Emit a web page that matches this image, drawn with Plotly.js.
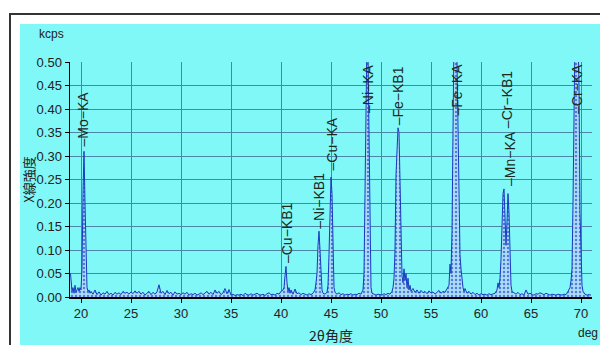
<!DOCTYPE html>
<html>
<head>
<meta charset="utf-8">
<script src="https://cdn.plot.ly/plotly-3.0.1.min.js"></script>
<style>
  html, body { margin:0; padding:0; background:#ffffff; width:600px; height:345px; overflow:hidden; }
  #frame { position:absolute; left:9px; top:13px; width:620px; height:360px; border-left:2px solid #333; border-top:2px solid #333; }
  #bg { position:absolute; left:20px; top:24px; width:600px; height:340px; background:#80f8f8; }
  #chart { position:absolute; left:0px; top:0px; width:600px; height:345px; }
</style>
</head>
<body>
<div id="frame"></div>
<div id="bg"></div>
<div id="chart"></div>
<script>
// 2θ angle (deg)
const theta = [
 18.95,19.0,19.1,19.2,19.3,19.4,19.5,19.6,19.7,19.8,19.9,20.0,20.1,20.2,20.25,20.3,20.4,20.5,20.6,20.7,20.8,20.9,
 21.0,21.2,21.4,21.6,21.8,22.0,22.2,22.4,22.6,22.8,23.0,23.2,23.4,23.6,23.8,24.0,24.2,24.4,24.6,24.8,
 25.0,25.2,25.4,25.6,25.8,26.0,26.2,26.4,26.6,26.8,27.0,27.2,27.4,27.6,27.8,28.0,28.2,28.4,28.6,28.8,
 29.0,29.2,29.4,29.6,29.8,30.0,30.2,30.4,30.6,30.8,31.0,31.2,31.4,31.6,31.8,32.0,32.2,32.4,32.6,32.8,
 33.0,33.2,33.4,33.6,33.8,34.0,34.2,34.4,34.6,34.8,35.0,35.2,35.4,35.6,35.8,36.0,36.2,36.4,36.6,36.8,
 37.0,37.2,37.4,37.6,37.8,38.0,38.2,38.4,38.6,38.8,39.0,39.2,39.4,39.6,39.8,40.0,40.2,40.3,40.4,40.5,
 40.6,40.7,40.8,40.9,41.0,41.2,41.4,41.6,41.8,42.0,42.2,42.4,42.6,42.8,43.0,43.2,43.4,43.5,43.6,43.7,
 43.8,43.9,44.0,44.1,44.2,44.4,44.6,44.7,44.8,44.9,45.0,45.1,45.2,45.3,45.4,45.6,45.8,46.0,46.2,46.4,
 46.6,46.8,47.0,47.2,47.4,47.6,47.8,48.0,48.2,48.3,48.4,48.5,48.6,48.7,48.8,48.9,49.0,49.1,49.3,49.5,
 49.7,49.9,50.1,50.3,50.5,50.7,50.9,51.1,51.2,51.3,51.4,51.5,51.6,51.7,51.8,51.9,52.0,52.1,52.2,52.3,
 52.4,52.5,52.6,52.7,52.8,52.9,53.0,53.2,53.4,53.6,53.8,54.0,54.2,54.4,54.6,54.8,55.0,55.2,55.4,55.6,
 55.8,56.0,56.2,56.4,56.6,56.8,56.9,57.0,57.1,57.2,57.3,57.4,57.5,57.6,57.7,57.8,57.9,58.0,58.1,58.2,
 58.3,58.4,58.6,58.8,59.0,59.2,59.4,59.6,59.8,60.0,60.2,60.4,60.6,60.8,61.0,61.2,61.4,61.6,61.7,61.8,
 61.9,62.0,62.1,62.2,62.3,62.4,62.5,62.6,62.7,62.8,62.9,63.0,63.1,63.3,63.5,63.7,63.9,64.1,64.3,64.5,
 64.7,64.9,65.1,65.3,65.5,65.7,65.9,66.1,66.3,66.5,66.7,66.9,67.1,67.3,67.5,67.7,67.9,68.1,68.3,68.5,
 68.7,68.9,69.0,69.1,69.2,69.3,69.4,69.5,69.6,69.7,69.8,69.9,70.0,70.1,70.2,70.4,70.6,70.8,71.0
];
// X-ray intensity (kcps)
const intensity = [
 0.050,0.030,0.012,0.020,0.008,0.025,0.010,0.015,0.020,0.012,0.020,0.015,0.060,0.220,0.300,0.310,0.200,0.080,0.020,0.012,0.015,0.008,
 0.012,0.006,0.015,0.005,0.011,0.004,0.009,0.006,0.012,0.005,0.008,0.004,0.010,0.006,0.009,0.005,0.012,0.008,0.010,0.006,
 0.011,0.007,0.013,0.008,0.012,0.006,0.010,0.004,0.009,0.012,0.005,0.010,0.006,0.011,0.026,0.008,0.012,0.005,0.014,0.007,
 0.010,0.004,0.011,0.006,0.008,0.005,0.009,0.006,0.010,0.004,0.007,0.005,0.008,0.004,0.006,0.009,0.005,0.008,0.012,0.006,
 0.010,0.005,0.015,0.008,0.012,0.005,0.009,0.018,0.007,0.016,0.004,0.006,0.003,0.005,0.004,0.006,0.003,0.008,0.005,0.004,
 0.007,0.004,0.006,0.008,0.005,0.004,0.006,0.003,0.007,0.009,0.005,0.006,0.004,0.008,0.006,0.012,0.015,0.020,0.045,0.065,
 0.030,0.012,0.020,0.008,0.015,0.006,0.017,0.007,0.009,0.005,0.008,0.006,0.004,0.007,0.005,0.008,0.015,0.030,0.050,0.110,
 0.140,0.100,0.040,0.015,0.008,0.006,0.010,0.025,0.090,0.200,0.255,0.220,0.080,0.020,0.010,0.006,0.009,0.005,0.007,0.004,
 0.006,0.005,0.007,0.004,0.006,0.005,0.008,0.006,0.015,0.050,0.220,0.460,0.560,0.520,0.300,0.090,0.020,0.008,0.006,0.004,
 0.006,0.005,0.004,0.007,0.005,0.008,0.006,0.012,0.020,0.040,0.100,0.260,0.340,0.360,0.350,0.220,0.080,0.045,0.030,0.060,
 0.035,0.050,0.020,0.040,0.015,0.025,0.012,0.018,0.010,0.015,0.008,0.014,0.009,0.012,0.007,0.013,0.008,0.011,0.006,0.010,
 0.014,0.008,0.012,0.010,0.018,0.025,0.070,0.050,0.140,0.400,0.560,0.580,0.570,0.500,0.350,0.150,0.090,0.060,0.035,0.020,
 0.012,0.018,0.008,0.012,0.006,0.010,0.005,0.008,0.004,0.007,0.005,0.006,0.004,0.007,0.005,0.006,0.008,0.015,0.030,0.020,
 0.040,0.080,0.150,0.220,0.230,0.170,0.110,0.160,0.220,0.180,0.070,0.025,0.012,0.008,0.006,0.010,0.005,0.007,0.004,0.015,
 0.006,0.008,0.005,0.004,0.007,0.006,0.009,0.007,0.005,0.008,0.006,0.004,0.006,0.005,0.004,0.006,0.005,0.004,0.006,0.005,
 0.012,0.020,0.035,0.060,0.200,0.450,0.560,0.580,0.580,0.560,0.450,0.180,0.060,0.025,0.012,0.006,0.004,0.005,0.004
];
// Peak labels
const peakNames = ["Mo−KA","Cu−KB1","Ni−KB1","Cu−KA","Ni−KA","Fe−KB1","Fe−KA","Cr−KB1","Mn−KA","Cr−KA"];
const peakTheta = [20.2, 40.55, 43.85, 45.05, 48.65, 51.7, 57.55, 62.55, 62.95, 69.6];
const peakLabelY = [0.315, 0.068, 0.140, 0.265, null, 0.360, null, 0.355, 0.232, null]; // null = label pinned at top

const xTicks = [20,25,30,35,40,45,50,55,60,65,70];
const xTitle = '2θ角度';
const yTitle = 'X線強度';
const yUnit = 'kcps';
const xUnit = 'deg';

const labelFont = {family: 'Liberation Sans, Arial, sans-serif', size: 14, color: '#1c2a1c'};
const annotations = peakNames.map((name, i) => {
  const top = peakLabelY[i] === null;
  return {
    x: peakTheta[i], xref: 'x',
    y: top ? 1 : peakLabelY[i], yref: top ? 'paper' : 'y',
    yanchor: top ? 'top' : 'bottom', xanchor: 'center',
    text: '–' + name, textangle: -90, showarrow: false,
    font: labelFont
  };
});
annotations.push({
  text: yUnit, xref: 'paper', yref: 'paper', x: -0.063, y: 1.119,
  xanchor: 'left', yanchor: 'middle', showarrow: false,
  font: {family: 'Liberation Sans, Arial, sans-serif', size: 12, color: '#222'}
});
annotations.push({
  text: xUnit, xref: 'paper', yref: 'paper', x: 0.970, y: -0.153,
  xanchor: 'left', yanchor: 'middle', showarrow: false,
  font: {family: 'Liberation Sans, Arial, sans-serif', size: 12, color: '#222'}
});
annotations.push({
  text: yTitle, xref: 'paper', yref: 'paper', x: -0.080, y: 0.5,
  xanchor: 'center', yanchor: 'middle', textangle: -90, showarrow: false,
  font: {family: 'Noto Sans CJK JP, sans-serif', size: 13, color: '#222'}
});
annotations.push({
  text: xTitle, xref: 'paper', yref: 'paper', x: 0.5, y: -0.162,
  xanchor: 'center', yanchor: 'middle', showarrow: false,
  font: {family: 'Noto Sans CJK JP, sans-serif', size: 14, color: '#222'}
});

const trace = {
  x: theta, y: intensity, type: 'scatter', mode: 'lines',
  line: {color: '#1a3ac0', width: 1},
  fill: 'tozeroy',
  fillpattern: {shape: '.', bgcolor: '#b0dcf6', fgcolor: '#4a80e0', size: 4, solidity: 0.3},
  hoverinfo: 'x+y'
};

const layout = {
  width: 600, height: 345,
  margin: {l: 70, r: 8, t: 62, b: 48},
  paper_bgcolor: 'rgba(0,0,0,0)', plot_bgcolor: '#80f8f8',
  showlegend: false,
  font: {family: 'Liberation Sans, Arial, sans-serif', size: 13, color: '#222'},
  xaxis: {
    range: [18.9, 71.1], tickvals: xTicks, ticks: 'outside', ticklen: 4, tickcolor: '#000',
    showgrid: true, gridcolor: '#4a86a6', gridwidth: 1,
    showline: true, linecolor: '#000', linewidth: 1.5, zeroline: false
  },
  yaxis: {
    range: [0, 0.5], dtick: 0.05, tick0: 0, tickformat: '.2f', ticks: 'outside', ticklen: 4, tickcolor: '#000',
    showgrid: true, gridcolor: '#4a86a6', gridwidth: 1,
    showline: true, linecolor: '#000', linewidth: 1.5, zeroline: false
  },
  annotations: annotations
};

Plotly.newPlot('chart', [trace], layout, {displayModeBar: false, staticPlot: true});
</script>
</body>
</html>
